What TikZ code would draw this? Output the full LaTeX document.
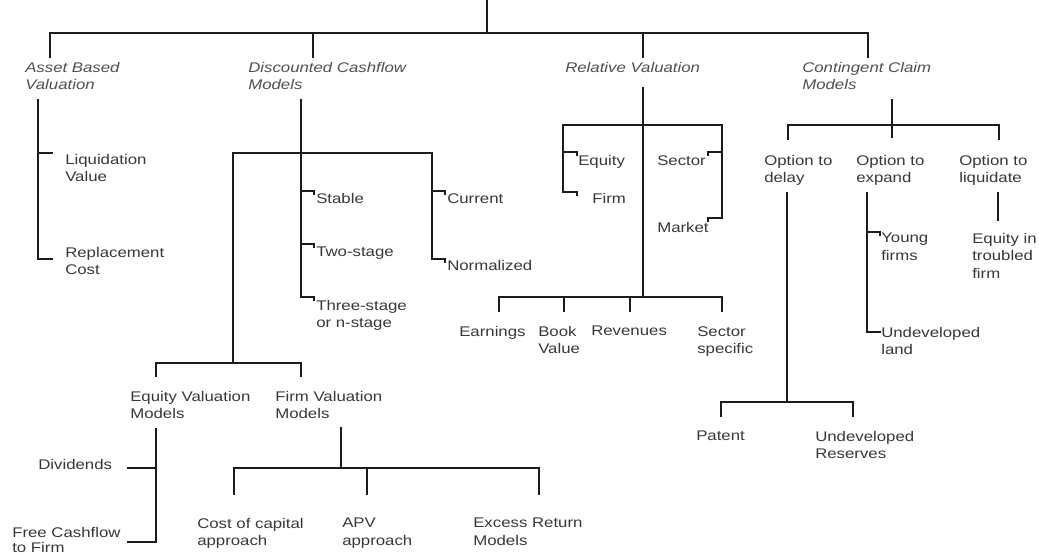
\documentclass[tikz,border=0pt]{standalone}
\usepackage{fontspec}
\setmainfont{Liberation Sans}[FakeStretch=1.2]
\definecolor{linec}{HTML}{1C1C1C}
\definecolor{txtc}{HTML}{383838}
\definecolor{catc}{HTML}{505050}
\tikzset{
  conn/.style={draw=linec, line width=1.7pt, line cap=rect},
  lbl/.style={anchor=north west, inner sep=0pt, align=left, text=txtc,
    font=\fontsize{10.5}{13.1}\selectfont},
  cat/.style={lbl, text=catc, font=\fontsize{10.5}{13.1}\selectfont\itshape},
}
\begin{document}
\begin{tikzpicture}[x=0.75pt,y=-0.75pt]
\fill[white] (0,0) rectangle (1039,554);
\useasboundingbox (0,0) rectangle (1039,554);

% ---------- top level ----------
\coordinate (root) at (487,0);
\coordinate (rootj) at (487,33);
\coordinate (barL) at (50,33);
\coordinate (barR) at (868,33);
\draw[conn] (root) -- (rootj);
\draw[conn] (barL) -- (barR);
\draw[conn] (50,33) -- (50,57);
\draw[conn] (313,33) -- (313,57);
\draw[conn] (643,33) -- (643,57);
\draw[conn] (868,33) -- (868,57);

\node[cat] (abv) at (25,62) {Asset Based\\Valuation};
\node[cat] (dcf) at (248,62) {Discounted Cashflow\\Models};
\node[cat] (rv)  at (565,62) {Relative Valuation};
\node[cat] (ccm) at (802,62) {Contingent Claim\\Models};

% ---------- asset based ----------
\draw[conn] (38,100) -- (38,259) -- (52,259);
\draw[conn] (38,153) -- (52,153);
\node[lbl] (liq) at (65,154) {Liquidation\\Value};
\node[lbl] (rep) at (65,247) {Replacement\\Cost};

% ---------- DCF ----------
\draw[conn] (301,100) -- (301,297) -- (314,297) -- (314,300);
\draw[conn] (233,153) -- (432,153);
\draw[conn] (432,153) -- (432,259) -- (445,259) -- (445,262);
\draw[conn] (233,153) -- (233,363);
\draw[conn] (301,191) -- (314,191) -- (314,194);
\draw[conn] (301,244) -- (314,244) -- (314,247);
\draw[conn] (432,191) -- (445,191) -- (445,194);
\node[lbl] (stable) at (316,193) {Stable};
\node[lbl] (two)    at (316,247) {Two-stage};
\node[lbl] (three)  at (316,300) {Three-stage\\or n-stage};
\node[lbl] (cur)    at (447,193) {Current};
\node[lbl] (norm)   at (447,260) {Normalized};

\draw[conn] (156,376) -- (156,363) -- (301,363) -- (301,376);
\node[lbl] (eqv) at (130,391) {Equity Valuation\\Models};
\node[lbl] (fv)  at (275,391) {Firm Valuation\\Models};

\draw[conn] (156,429) -- (156,542) -- (128,542);
\draw[conn] (128,468) -- (156,468);
\node[lbl] (div) at (38,459) {Dividends};
\node[lbl, font=\fontsize{10.5}{11.6}\selectfont] (fcff) at (12,527) {Free Cashflow\\to Firm};

\draw[conn] (341,428) -- (341,468);
\draw[conn] (234,494) -- (234,468) -- (539,468) -- (539,494);
\draw[conn] (367,468) -- (367,494);
\node[lbl] (coc) at (197,518) {Cost of capital\\approach};
\node[lbl] (apv) at (342,518) {APV\\approach};
\node[lbl] (exr) at (473,518) {Excess Return\\Models};

% ---------- relative valuation ----------
\draw[conn] (643,88) -- (643,297);
\draw[conn] (563,192) -- (563,125) -- (722,125) -- (722,218);
\draw[conn] (563,152) -- (577,152) -- (577,155);
\draw[conn] (563,192) -- (577,192) -- (577,195);
\draw[conn] (722,152) -- (708,152) -- (708,155);
\draw[conn] (722,218) -- (708,218) -- (708,221);
\node[lbl] (req) at (578,155) {Equity};
\node[lbl] (rfirm) at (592,193) {Firm};
\node[lbl] (rsec) at (657,155) {Sector};
\node[lbl] (rmkt) at (657,222) {Market};

\draw[conn] (499,311) -- (499,297) -- (722,297) -- (722,311);
\draw[conn] (564,297) -- (564,311);
\draw[conn] (630,297) -- (630,311);
\node[lbl] (earn) at (459,326) {Earnings};
\node[lbl] (book) at (538,326) {Book\\Value};
\node[lbl] (rev)  at (591,326) {Revenues};
\node[lbl] (secs) at (697,326) {Sector\\specific};

% ---------- contingent claim ----------
\draw[conn] (892,100) -- (892,137);
\draw[conn] (788,139) -- (788,125) -- (999,125) -- (999,139);
\node[lbl] (odel) at (764,155) {Option to\\delay};
\node[lbl] (oexp) at (856,155) {Option to\\expand};
\node[lbl] (oliq) at (959,155) {Option to\\liquidate};

\draw[conn] (787,193) -- (787,402);
\draw[conn] (721,416) -- (721,402) -- (853,402) -- (853,416);
\node[lbl] (pat) at (696,431) {Patent};
\node[lbl] (ures) at (815,431) {Undeveloped\\Reserves};

\draw[conn] (867,193) -- (867,332) -- (880,332);
\draw[conn] (867,232) -- (880,232) -- (880,235);
\node[lbl] (young) at (881,233) {Young\\firms};
\node[lbl] (uland) at (881,327) {Undeveloped\\land};

\draw[conn] (998,193) -- (998,220);
\node[lbl] (eqtf) at (972,233) {Equity in\\troubled\\firm};
\end{tikzpicture}
\end{document}
